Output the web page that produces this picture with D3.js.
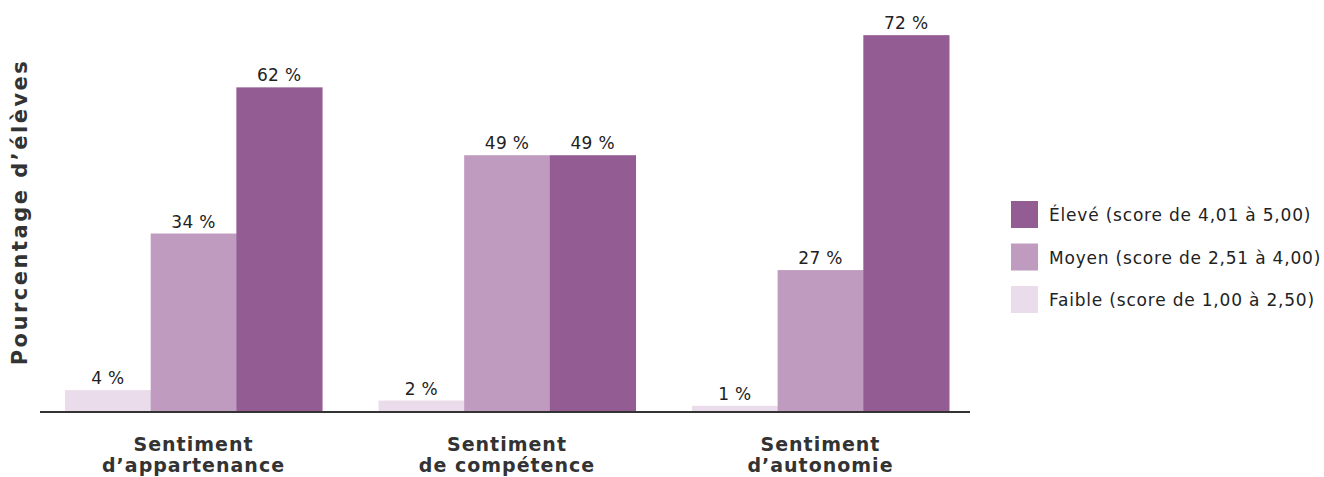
<!DOCTYPE html>
<html>
<head>
<meta charset="utf-8">
<script src="https://cdn.jsdelivr.net/npm/d3@7"></script>
<style>
  body { margin: 0; background: #fff; }
  svg { display: block; font-family: "DejaVu Sans", sans-serif; }
</style>
</head>
<body>
<svg width="1324" height="477"></svg>
<script>
const categories = [["Sentiment", "d’appartenance"], ["Sentiment", "de compétence"], ["Sentiment", "d’autonomie"]];
const seriesKeys = ["faible", "moyen", "eleve"];
const faible = [4, 2, 1];
const moyen = [34, 49, 27];
const eleve = [62, 49, 72];
const legendLabels = ["Élevé (score de 4,01 à 5,00)", "Moyen (score de 2,51 à 4,00)", "Faible (score de 1,00 à 2,50)"];
const legendKeys = ["eleve", "moyen", "faible"];
const yTitle = "Pourcentage d’élèves";

const colors = { faible: "#eadcea", moyen: "#bf9cbf", eleve: "#935c93" };
const values = { faible: faible, moyen: moyen, eleve: eleve };

let svg = d3.select("svg");

let attr_area = {
    axisLeft: 40,
    axisRight: 970,
    baseY: 411,
    pxPerPct: 5.22
};

let catIdx = categories.map((c, i) => i);

let scaleX0 = d3.scaleBand()
    .domain(catIdx)
    .range([65, 949])
    .paddingInner(0.18)
    .paddingOuter(0);

let scaleX1 = d3.scaleBand()
    .domain(seriesKeys)
    .range([0, scaleX0.bandwidth()])
    .padding(0);

let scaleY = d3.scaleLinear()
    .domain([0, 100])
    .range([attr_area.baseY, attr_area.baseY - 100 * attr_area.pxPerPct]);

// bars
let groups = svg.selectAll(".group")
    .data(catIdx)
    .enter()
    .append("g")
    .attr("transform", d => `translate(${scaleX0(d)}, 0)`);

groups.selectAll("rect")
    .data(i => seriesKeys.map(k => ({ key: k, value: values[k][i] })))
    .enter()
    .append("rect")
    .attr("x", d => scaleX1(d.key))
    .attr("y", d => scaleY(d.value))
    .attr("width", scaleX1.bandwidth() + 0.5)
    .attr("height", d => scaleY(0) - scaleY(d.value))
    .style("fill", d => colors[d.key]);

groups.selectAll("text.val")
    .data(i => seriesKeys.map(k => ({ key: k, value: values[k][i] })))
    .enter()
    .append("text")
    .attr("class", "val")
    .attr("x", d => scaleX1(d.key) + scaleX1.bandwidth() / 2)
    .attr("y", d => scaleY(d.value) - 6)
    .attr("text-anchor", "middle")
    .style("font-size", "17px")
    .style("letter-spacing", "0.3px")
    .style("fill", "#222")
    .text(d => d.value + " %");

// axis line
svg.append("line")
    .attr("x1", attr_area.axisLeft)
    .attr("x2", attr_area.axisRight)
    .attr("y1", scaleY(0) + 1)
    .attr("y2", scaleY(0) + 1)
    .attr("stroke", "#333")
    .attr("stroke-width", 2);

// category labels
groups.append("text")
    .attr("x", scaleX0.bandwidth() / 2)
    .attr("text-anchor", "middle")
    .style("font-size", "19px")
    .style("font-weight", "bold")
    .style("letter-spacing", "1px")
    .style("fill", "#333")
    .selectAll("tspan")
    .data(i => categories[i])
    .enter()
    .append("tspan")
    .attr("x", scaleX0.bandwidth() / 2)
    .attr("y", (d, j) => 451 + j * 21)
    .text(d => d);

// y title
svg.append("text")
    .attr("transform", "translate(27, 212) rotate(-90)")
    .attr("text-anchor", "middle")
    .style("font-size", "21px")
    .style("font-weight", "bold")
    .style("letter-spacing", "2.5px")
    .style("fill", "#333")
    .text(yTitle);

// legend
let legend = svg.selectAll(".legend")
    .data(legendKeys)
    .enter()
    .append("g")
    .attr("transform", (d, i) => `translate(1011, ${201 + i * 42.5})`);

legend.append("rect")
    .attr("width", 27)
    .attr("height", 27)
    .style("fill", d => colors[d]);

legend.append("text")
    .attr("x", 38)
    .attr("y", 20)
    .style("font-size", "17px")
    .style("letter-spacing", "0.8px")
    .style("fill", "#222")
    .text((d, i) => legendLabels[i]);
</script>
</body>
</html>
